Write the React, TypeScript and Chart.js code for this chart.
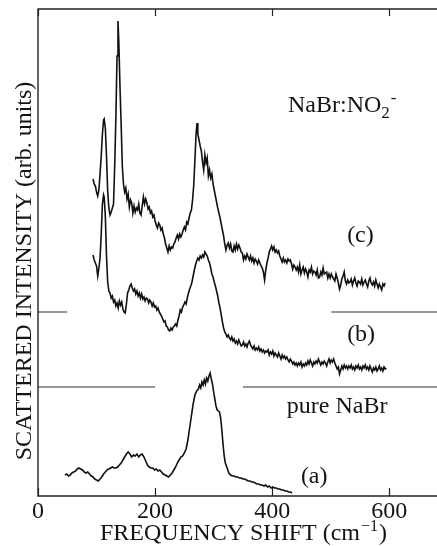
import { useEffect, useRef } from "react";
import { Chart, registerables } from "chart.js";

Chart.register(...registerables);

type Pt = [number, number];

// Frequency shift axis (cm^-1)
const shiftTicks = [0, 200, 400, 600];
const shiftMin = 0;
const shiftMax = 681.5;
// Scattered intensity, arbitrary units (traces are offset vertically)
const intensityMax = 487;

// (c) NaBr:NO2- , upper trace
const spectrumC: Pt[] = [
  [94, 317], [96, 312], [98, 310], [100, 304], [102, 300], [104, 306], [106, 322], [108, 340],
  [110, 362], [112, 376], [113, 377], [115, 368], [117, 340], [119, 305], [121, 288], [123, 281],
  [125, 284], [127, 288], [129, 292], [131, 330], [133, 378], [135, 440], [136.6, 475], [138, 455],
  [140, 410], [142, 372], [144, 330], [146, 312], [148, 304], [150, 308], [152, 297], [154, 302],
  [156, 289], [158, 296], [160, 293], [162, 283], [164, 290], [166, 284], [168, 288], [170, 286],
  [172, 292], [174, 283], [176, 281], [178, 290], [180, 299], [182, 292], [184, 297], [186, 293],
  [188, 287], [190, 289], [192, 283], [194, 285], [196, 279], [198, 281], [200, 275], [202, 271],
  [204, 268], [206, 273], [208, 271], [210, 266], [212, 268], [214, 262], [216, 258], [218, 252],
  [220, 248], [222, 244], [224, 250], [226, 246], [228, 249], [230, 248], [232, 252], [234, 254],
  [236, 258], [238, 261], [240, 257], [242, 262], [244, 259], [246, 262], [248, 266], [250, 269],
  [252, 266], [254, 274], [256, 272], [258, 278], [260, 283], [262, 286], [264, 296], [266, 311],
  [268, 336], [270, 362], [271.6, 373], [273, 362], [275, 356], [277, 350], [279, 345], [281, 334],
  [283, 326], [285, 341], [287, 333], [289, 338], [291, 320], [293, 326], [295, 318], [297, 322],
  [299, 312], [301, 306], [303, 300], [305, 294], [307, 288], [309, 283], [311, 278], [313, 272],
  [315, 266], [317, 260], [319, 252], [321, 246], [323, 251], [325, 253], [327, 248], [329, 252],
  [331, 245], [333, 244], [335, 250], [337, 246], [339, 252], [341, 247], [343, 251], [345, 248],
  [347, 244], [349, 243], [351, 236], [353, 240], [355, 237], [357, 242], [359, 239], [361, 236],
  [363, 240], [365, 235], [367, 238], [369, 233], [371, 237], [373, 235], [375, 232], [377, 236],
  [379, 233], [381, 230], [383, 228], [385, 224], [387, 216], [389, 226], [391, 233], [393, 238],
  [395, 244], [397, 247], [399, 250], [401, 246], [403, 249], [405, 244], [407, 246], [409, 243],
  [411, 245], [413, 240], [415, 237], [417, 234], [419, 238], [421, 234], [423, 236], [425, 233],
  [427, 237], [429, 235], [431, 236], [433, 232], [435, 227], [437, 231], [439, 229], [441, 226],
  [443, 229], [445, 224], [447, 231], [449, 222], [451, 226], [453, 229], [455, 223], [457, 227],
  [459, 224], [461, 219], [463, 226], [465, 224], [467, 229], [469, 222], [471, 225], [473, 224],
  [475, 221], [477, 226], [479, 218], [481, 219], [483, 224], [485, 221], [487, 228], [489, 222],
  [491, 223], [493, 224], [495, 218], [497, 222], [499, 218], [501, 222], [503, 219], [505, 217],
  [507, 215], [509, 222], [511, 218], [513, 213], [515, 207], [517, 211], [519, 217], [521, 220],
  [523, 224], [525, 215], [527, 212], [529, 216], [531, 213], [533, 214], [535, 217], [537, 211],
  [539, 215], [541, 218], [543, 213], [545, 210], [547, 215], [549, 214], [551, 212], [553, 217],
  [555, 211], [557, 214], [559, 216], [561, 212], [563, 209], [565, 215], [567, 218], [569, 213],
  [571, 211], [573, 214], [575, 210], [577, 216], [579, 212], [581, 208], [583, 212], [585, 209],
  [587, 206], [589, 212], [591, 210], [593, 213],
];

// (b) NaBr:NO2- , middle trace
const spectrumB: Pt[] = [
  [94, 241], [96, 236], [98, 233], [100, 230], [102, 220], [104, 228], [106, 238], [108, 262],
  [110, 292], [112, 301], [113, 299], [115, 280], [117, 240], [119, 214], [121, 205], [123, 203],
  [125, 198], [127, 200], [129, 194], [131, 196], [133, 190], [135, 193], [137, 188], [139, 195],
  [141, 191], [143, 194], [145, 187], [147, 184], [149, 183], [151, 192], [153, 203], [155, 206],
  [157, 210], [159, 212], [161, 208], [163, 205], [165, 207], [167, 202], [169, 205], [171, 200],
  [173, 203], [175, 198], [177, 202], [179, 197], [181, 199], [183, 195], [185, 198], [187, 197],
  [189, 193], [191, 196], [193, 194], [195, 190], [197, 193], [199, 189], [201, 190], [203, 186],
  [205, 188], [207, 184], [209, 182], [211, 180], [213, 177], [215, 174], [217, 175], [219, 170],
  [221, 169], [223, 166], [225, 165], [227, 168], [229, 166], [231, 169], [233, 170], [235, 172],
  [237, 170], [239, 176], [241, 180], [243, 186], [245, 184], [247, 189], [249, 191], [251, 194],
  [253, 192], [255, 198], [257, 203], [259, 207], [261, 210], [263, 214], [265, 220], [267, 226],
  [269, 231], [271, 235], [273, 238], [275, 236], [277, 240], [279, 238], [281, 241], [283, 239],
  [285, 244], [287, 242], [289, 240], [291, 236], [293, 233], [295, 228], [297, 222], [299, 219],
  [301, 214], [303, 210], [305, 205], [307, 200], [309, 193], [311, 188], [313, 181], [315, 174],
  [317, 168], [319, 164], [321, 162], [323, 159], [325, 161], [327, 158], [329, 156], [331, 159],
  [333, 155], [335, 157], [337, 153], [339, 155], [341, 152], [343, 156], [345, 153], [347, 150],
  [349, 151], [351, 154], [353, 150], [355, 152], [357, 149], [359, 153], [361, 155], [363, 151],
  [365, 149], [367, 147], [369, 150], [371, 146], [373, 148], [375, 146], [377, 149], [379, 145],
  [381, 147], [383, 144], [385, 146], [387, 143], [389, 145], [391, 144], [393, 146], [395, 141],
  [397, 144], [399, 142], [401, 145], [403, 140], [405, 143], [407, 141], [409, 139], [411, 143],
  [413, 140], [415, 137], [417, 141], [419, 138], [421, 140], [423, 137], [425, 139], [427, 136],
  [429, 134], [431, 137], [433, 135], [435, 132], [437, 134], [439, 131], [441, 133], [443, 130],
  [445, 133], [447, 131], [449, 134], [451, 129], [453, 132], [455, 130], [457, 133], [459, 131],
  [461, 135], [463, 132], [465, 136], [467, 133], [469, 130], [471, 134], [473, 132], [475, 135],
  [477, 133], [479, 137], [481, 134], [483, 131], [485, 134], [487, 132], [489, 135], [491, 133],
  [493, 130], [495, 134], [497, 137], [499, 133], [501, 136], [503, 134], [505, 137], [507, 133],
  [509, 130], [511, 127], [513, 129], [515, 122], [517, 126], [519, 130], [521, 127], [523, 131],
  [525, 128], [527, 130], [529, 127], [531, 130], [533, 128], [535, 131], [537, 127], [539, 129],
  [541, 126], [543, 130], [545, 128], [547, 131], [549, 127], [551, 129], [553, 126], [555, 130],
  [557, 128], [559, 131], [561, 127], [563, 129], [565, 126], [567, 130], [569, 127], [571, 124],
  [573, 128], [575, 126], [577, 129], [579, 125], [581, 127], [583, 130], [585, 126], [587, 128],
  [589, 125], [591, 129], [593, 127], [595, 128],
];

// (a) pure NaBr, lower trace
const spectrumA: Pt[] = [
  [46, 21], [49, 22], [52, 20], [55, 21], [58, 23], [61, 24], [64, 25], [67, 27],
  [70, 28], [73, 27], [76, 26], [79, 24], [82, 23], [85, 24], [88, 22], [91, 20],
  [94, 19], [97, 17], [100, 16], [103, 15], [106, 17], [109, 19], [112, 22], [115, 24],
  [118, 26], [121, 27], [124, 28], [127, 29], [130, 28], [133, 28], [136, 29], [139, 31],
  [142, 33], [145, 36], [148, 39], [151, 42], [154, 44], [157, 42], [160, 39], [163, 41],
  [166, 40], [169, 42], [172, 39], [175, 41], [178, 42], [181, 39], [184, 35], [187, 31],
  [190, 29], [193, 28], [196, 28], [199, 26], [202, 27], [205, 25], [208, 26], [211, 24],
  [214, 22], [217, 21], [220, 20], [223, 19], [226, 21], [229, 23], [232, 26], [235, 29],
  [238, 33], [241, 36], [244, 39], [247, 40], [250, 43], [253, 47], [256, 56], [259, 68],
  [262, 80], [265, 92], [268, 101], [271, 105], [274, 107], [276, 111], [278, 108], [280, 114],
  [282, 111], [284, 116], [286, 112], [288, 118], [290, 115], [292, 120], [294, 123], [296, 117],
  [298, 112], [300, 104], [302, 97], [304, 90], [306, 86], [308, 85], [310, 84], [312, 78],
  [314, 66], [316, 52], [318, 40], [320, 33], [323, 28], [326, 23], [329, 21], [332, 20],
  [335, 20], [338, 19], [341, 19], [344, 18], [347, 18], [350, 17], [353, 17], [356, 16],
  [359, 15], [362, 15], [365, 14], [368, 14], [371, 13], [374, 12], [377, 12], [380, 11],
  [383, 11], [386, 10], [389, 11], [392, 9], [395, 10], [398, 8], [401, 9], [404, 8],
  [407, 8], [410, 7], [413, 7], [416, 6], [419, 6], [422, 5], [425, 5], [428, 4],
  [431, 4], [434, 3],
];

// Zero-intensity reference levels of the offset traces, drawn as broken lines
const zeroLevelB = 184;
const zeroLevelBSpans: Pt[] = [[0, 50], [501, 681.5]];
const zeroLevelA = 109;
const zeroLevelASpans: Pt[] = [[0, 200], [350, 681.5]];

// Text placed inside the plot, anchored in data coordinates (left, baseline)
const traceLabels = [
  { text: "(c)", at: [528, 254] as Pt },
  { text: "(b)", at: [528, 155] as Pt },
  { text: "pure NaBr", at: [425, 83] as Pt },
  { text: "(a)", at: [449, 13] as Pt },
];
const sampleLabelAt: Pt = [427, 384];

const FONT = "Liberation Serif";
const INK = "#141414";

const toXY = (pts: Pt[]) => pts.map(([x, y]) => ({ x, y }));

const brokenLevel = (level: number, spans: Pt[]) => {
  const out: { x: number; y: number | null }[] = [];
  spans.forEach(([a, b], i) => {
    if (i > 0) out.push({ x: (spans[i - 1][1] + a) / 2, y: null });
    out.push({ x: a, y: level }, { x: b, y: level });
  });
  return out;
};

const frameAndText = {
  id: "frameAndText",
  afterDraw(chart: any) {
    const { ctx, chartArea: a, scales } = chart;
    const xs = scales.x;
    const ys = scales.y;
    ctx.save();

    // frame: top, left and bottom edges
    ctx.strokeStyle = "#222";
    ctx.lineWidth = 1.4;
    ctx.beginPath();
    ctx.moveTo(a.right, a.top);
    ctx.lineTo(a.left, a.top);
    ctx.lineTo(a.left, a.bottom);
    ctx.lineTo(a.right, a.bottom);
    ctx.stroke();

    // inward tick marks on top and bottom edges
    ctx.lineWidth = 1.2;
    ctx.beginPath();
    shiftTicks.forEach((v) => {
      const px = Math.round(xs.getPixelForValue(v)) + 0.5;
      ctx.moveTo(px, a.bottom);
      ctx.lineTo(px, a.bottom - 8);
      ctx.moveTo(px, a.top);
      ctx.lineTo(px, a.top + 7);
    });
    ctx.stroke();

    ctx.fillStyle = INK;
    ctx.textBaseline = "alphabetic";
    ctx.textAlign = "left";
    ctx.font = `24px "${FONT}"`;

    traceLabels.forEach(({ text, at }) => {
      ctx.fillText(text, xs.getPixelForValue(at[0]), ys.getPixelForValue(at[1]));
    });

    // NaBr:NO2^-
    let sx = xs.getPixelForValue(sampleLabelAt[0]);
    const sy = ys.getPixelForValue(sampleLabelAt[1]);
    ctx.font = `24px "${FONT}"`;
    ctx.fillText("NaBr:NO", sx, sy);
    sx += ctx.measureText("NaBr:NO").width;
    ctx.font = `17px "${FONT}"`;
    ctx.fillText("2", sx, sy + 6);
    sx += ctx.measureText("2").width;
    ctx.fillText("-", sx + 1, sy - 9);

    // x-axis title with superscript
    let tx = 100;
    const ty = 540;
    ctx.font = `24px "${FONT}"`;
    ctx.fillText("FREQUENCY SHIFT (cm", tx, ty);
    tx += ctx.measureText("FREQUENCY SHIFT (cm").width;
    ctx.font = `16px "${FONT}"`;
    ctx.fillText("\u22121", tx + 1, ty - 9);
    tx += ctx.measureText("\u22121").width + 2;
    ctx.font = `24px "${FONT}"`;
    ctx.fillText(")", tx, ty);

    // y-axis title, rotated
    ctx.translate(31, 271);
    ctx.rotate(-Math.PI / 2);
    ctx.textAlign = "center";
    ctx.font = `24px "${FONT}"`;
    ctx.fillText("SCATTERED INTENSITY (arb. units)", 0, 0);

    ctx.restore();
  },
};

export default function App() {
  const canvasRef = useRef<HTMLCanvasElement | null>(null);

  useEffect(() => {
    const canvas = canvasRef.current;
    if (!canvas) return;
    const traceStyle = {
      borderColor: "#111",
      borderWidth: 1.6,
      pointRadius: 0,
      tension: 0,
      fill: false,
    };
    const levelStyle = {
      borderColor: "#333",
      borderWidth: 1.1,
      pointRadius: 0,
      tension: 0,
      fill: false,
      spanGaps: false,
    };
    const chart = new Chart(canvas, {
      type: "line",
      data: {
        datasets: [
          { label: "(c)", data: toXY(spectrumC), ...traceStyle },
          { label: "(b)", data: toXY(spectrumB), ...traceStyle },
          { label: "(a) pure NaBr", data: toXY(spectrumA), ...traceStyle },
          { label: "zero (b)", data: brokenLevel(zeroLevelB, zeroLevelBSpans), ...levelStyle },
          { label: "zero (a)", data: brokenLevel(zeroLevelA, zeroLevelASpans), ...levelStyle },
        ] as any,
      },
      options: {
        responsive: false,
        animation: false,
        devicePixelRatio: 1,
        layout: { padding: { top: 9, right: 0, bottom: 0, left: 0 } },
        plugins: {
          legend: { display: false },
          tooltip: { enabled: false },
        },
        scales: {
          x: {
            type: "linear",
            min: shiftMin,
            max: shiftMax,
            grid: { display: false, drawTicks: false },
            border: { display: false },
            afterBuildTicks: (s: any) => {
              s.ticks = shiftTicks.map((v) => ({ value: v }));
            },
            afterFit: (s: any) => {
              s.height = 50;
            },
            ticks: {
              autoSkip: false,
              maxRotation: 0,
              padding: 1,
              color: INK,
              font: { family: FONT, size: 24 },
              callback: (v: any) => String(v),
            },
          },
          y: {
            type: "linear",
            min: 0,
            max: intensityMax,
            grid: { display: false, drawTicks: false },
            border: { display: false },
            ticks: { display: false },
            afterFit: (s: any) => {
              s.width = 38;
            },
          },
        },
      },
      plugins: [frameAndText],
    });
    return () => chart.destroy();
  }, []);

  return (
    <div style={{ position: "absolute", left: 0, top: 0, width: 437, height: 546, background: "#fff" }}>
      <canvas ref={canvasRef} width={437} height={546} style={{ display: "block" }} />
    </div>
  );
}
